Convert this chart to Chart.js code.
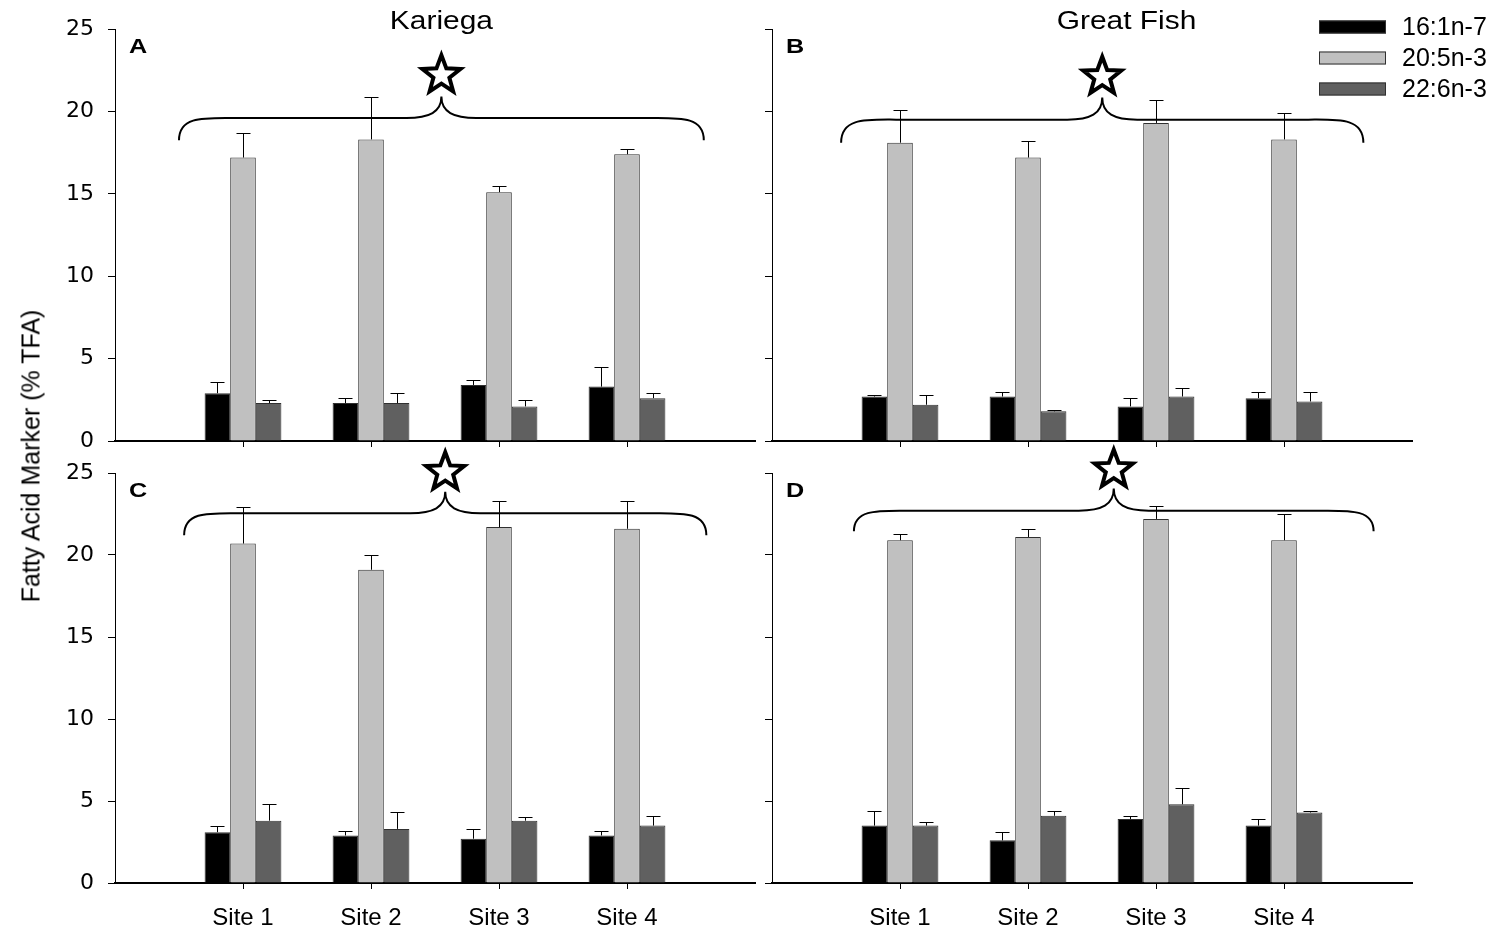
<!DOCTYPE html>
<html>
<head>
<meta charset="utf-8">
<script src="https://cdn.jsdelivr.net/npm/chart.js@4.4.1/dist/chart.umd.min.js"></script>
<style>
    html, body { margin: 0; padding: 0; background: #fff; }
    body { width: 1503px; height: 931px; position: relative; overflow: hidden; }
    canvas { position: absolute; }
    #yTitle {
        position: absolute; left: 31px; top: 456px;
        transform: translate(-50%, -50%) rotate(-90deg);
        white-space: nowrap; font: 25px "Liberation Sans", Arial, sans-serif; color: #000;
    }
</style>
</head>
<body>
<canvas id="chartA" width="760" height="470" style="left:0;top:0"></canvas>
<canvas id="chartB" width="743" height="470" style="left:760px;top:0"></canvas>
<canvas id="chartC" width="760" height="491" style="left:0;top:440px"></canvas>
<canvas id="chartD" width="743" height="491" style="left:760px;top:440px"></canvas>
<div id="yTitle">Fatty Acid Marker (% TFA)</div>

<script>
// data
const sites = ['Site 1', 'Site 2', 'Site 3', 'Site 4'];
const markers = ['16:1n-7', '20:5n-3', '22:6n-3'];
const yTickValues = [0, 5, 10, 15, 20, 25];

// A - Kariega (top)
const a16 = [2.9, 2.3, 3.4, 3.3],     a16Err = [0.7, 0.3, 0.3, 1.2];
const a20 = [17.2, 18.3, 15.1, 17.4], a20Err = [1.5, 2.6, 0.4, 0.3];
const a22 = [2.3, 2.3, 2.1, 2.6],     a22Err = [0.2, 0.6, 0.4, 0.3];

// B - Great Fish (top)
const b16 = [2.7, 2.7, 2.1, 2.6],     b16Err = [0.1, 0.3, 0.5, 0.4];
const b20 = [18.1, 17.2, 19.3, 18.3], b20Err = [2.0, 1.0, 1.4, 1.6];
const b22 = [2.2, 1.8, 2.7, 2.4],     b22Err = [0.6, 0.1, 0.5, 0.6];

// C - Kariega (bottom)
const c16 = [3.1, 2.9, 2.7, 2.9],     c16Err = [0.4, 0.3, 0.6, 0.3];
const c20 = [20.7, 19.1, 21.7, 21.6], c20Err = [2.2, 0.9, 1.6, 1.7];
const c22 = [3.8, 3.3, 3.8, 3.5],     c22Err = [1.0, 1.0, 0.2, 0.6];

// D - Great Fish (bottom)
const d16 = [3.5, 2.6, 3.9, 3.5],     d16Err = [0.9, 0.5, 0.2, 0.4];
const d20 = [20.9, 21.1, 22.2, 20.9], d20Err = [0.4, 0.5, 0.8, 1.6];
const d22 = [3.5, 4.1, 4.8, 4.3],     d22Err = [0.2, 0.3, 1.0, 0.1];

const fills = ['#000000', '#c0c0c0', '#606060'];
const FONT = '"Liberation Sans", Arial, sans-serif';

// error bars (upper only, with cap)
const errorBars = {
    id: 'errorBars',
    afterDatasetsDraw(chart) {
        const ctx = chart.ctx;
        const y = chart.scales.y;
        ctx.save();
        ctx.strokeStyle = '#000';
        ctx.lineWidth = 1;
        chart.data.datasets.forEach((ds, i) => {
            chart.getDatasetMeta(i).data.forEach((bar, j) => {
                const top = Math.round(y.getPixelForValue(ds.data[j].y + ds.errors[j])) + 0.5;
                const x = Math.round(bar.x) + 0.5;
                ctx.beginPath();
                ctx.moveTo(x, bar.y);
                ctx.lineTo(x, top);
                ctx.moveTo(x - 7, top);
                ctx.lineTo(x + 7, top);
                ctx.stroke();
            });
        });
        ctx.restore();
    }
};

function drawStar(ctx, cx, cy, r) {
    ctx.beginPath();
    for (let k = 0; k < 10; k++) {
        const rad = k % 2 === 0 ? r : r * 0.42;
        const a = -Math.PI / 2 + k * Math.PI / 5;
        const px = cx + rad * Math.cos(a), py = cy + rad * Math.sin(a);
        if (k === 0) ctx.moveTo(px, py); else ctx.lineTo(px, py);
    }
    ctx.closePath();
    ctx.fillStyle = '#fff';
    ctx.lineWidth = 4;
    ctx.lineJoin = 'miter';
    ctx.strokeStyle = '#000';
    ctx.fill();
    ctx.stroke();
}

// panel letter, title, brace, star and legend
const decorations = {
    id: 'decorations',
    afterDraw(chart, args, opts) {
        const ctx = chart.ctx;
        const xs = chart.scales.x, ys = chart.scales.y;
        const area = chart.chartArea;
        ctx.save();

        ctx.fillStyle = '#000';
        ctx.font = 'bold 21px ' + FONT;
        ctx.textBaseline = 'top';
        ctx.textAlign = 'left';
        ctx.save();
        ctx.translate(area.left + 14, area.top + 8);
        ctx.scale(1.2, 1);
        ctx.fillText(opts.letter, 0, 0);
        ctx.restore();

        if (opts.title) {
            ctx.font = '26px ' + FONT;
            ctx.textAlign = 'center';
            ctx.textBaseline = 'middle';
            ctx.save();
            ctx.translate(xs.getPixelForValue(opts.titleX), area.top - 7);
            ctx.scale(1.15, 1);
            ctx.fillText(opts.title, 0, 0);
            ctx.restore();
        }

        const b = opts.brace;
        const x0 = xs.getPixelForValue(b.x0), x1 = xs.getPixelForValue(b.x1);
        const xm = xs.getPixelForValue(b.xm);
        const yH = ys.getPixelForValue(b.y), yE = ys.getPixelForValue(b.yEnd);
        const yP = ys.getPixelForValue(b.yPeak);
        ctx.beginPath();
        ctx.lineWidth = 2;
        ctx.strokeStyle = '#000';
        ctx.moveTo(x0, yE);
        ctx.bezierCurveTo(x0, yH - 2, x0 + 25, yH, x0 + 55, yH);
        ctx.lineTo(xm - 35, yH);
        ctx.bezierCurveTo(xm - 12, yH, xm, yH - 6, xm, yP);
        ctx.bezierCurveTo(xm, yH - 6, xm + 12, yH, xm + 35, yH);
        ctx.lineTo(x1 - 55, yH);
        ctx.bezierCurveTo(x1 - 25, yH, x1, yH - 2, x1, yE);
        ctx.stroke();

        drawStar(ctx, xm, ys.getPixelForValue(b.star), 20);

        if (opts.legend) {
            const L = opts.legend;
            ctx.font = '25px ' + FONT;
            ctx.textAlign = 'left';
            ctx.textBaseline = 'middle';
            chart.data.datasets.forEach((ds, i) => {
                const cy = area.top + L.dy + i * L.gap;
                const lx = area.right - L.dx;
                ctx.fillStyle = ds.backgroundColor;
                ctx.fillRect(lx, cy - 6.5, 67, 13);
                ctx.lineWidth = 1;
                ctx.strokeStyle = '#303030';
                ctx.strokeRect(lx + 0.5, cy - 6, 66, 12);
                ctx.fillStyle = '#000';
                ctx.fillText(ds.label, lx + 83, cy + 1);
            });
        }
        ctx.restore();
    }
};

function makePanel(id, series, errs, o) {
    const datasets = series.map((vals, i) => ({
        label: markers[i],
        data: vals.map((v, j) => ({ x: j + 1, y: v })),
        errors: errs[i],
        backgroundColor: fills[i],
        borderColor: '#303030',
        borderWidth: 1,
        categoryPercentage: 0.6,
        barPercentage: 1.0
    }));
    const tickCol = (c) => (c.tick && c.tick.value >= 1 && c.tick.value <= 4) ? '#000' : 'rgba(0,0,0,0)';
    return new Chart(document.getElementById(id), {
        type: 'bar',
        data: { datasets: datasets },
        options: {
            responsive: false,
            animation: false,
            events: [],
            layout: { padding: { top: o.top, right: o.right, left: 0, bottom: 0 } },
            plugins: {
                legend: { display: false },
                tooltip: { enabled: false },
                decorations: o.deco
            },
            scales: {
                x: {
                    type: 'linear', min: 0, max: 5, offset: false,
                    afterBuildTicks: (s) => { s.ticks = [0, 1, 2, 3, 4, 5].map(v => ({ value: v })); },
                    afterFit: (s) => { s.height = o.xHeight; s.paddingLeft = 0; s.paddingRight = 0; },
                    grid: { offset: false, drawOnChartArea: false, drawTicks: true, tickLength: 6, color: tickCol, tickColor: tickCol },
                    border: { display: true, color: '#000', width: 2 },
                    ticks: {
                        display: o.xLabels, padding: 15, color: '#000',
                        font: { family: FONT, size: 24 },
                        maxRotation: 0, autoSkip: false,
                        callback: (v) => sites[v - 1] || ''
                    }
                },
                y: {
                    min: 0, max: 25,
                    afterBuildTicks: (s) => { s.ticks = yTickValues.map(v => ({ value: v })); },
                    afterFit: (s) => { s.width = o.yWidth; },
                    grid: { drawOnChartArea: false, drawTicks: true, tickLength: 7, color: '#000', tickColor: '#000' },
                    border: { display: true, color: '#000', width: 1 },
                    ticks: {
                        display: o.yLabels, padding: 14, color: '#000',
                        font: { family: '"DejaVu Sans", sans-serif', size: 22 }
                    }
                }
            }
        },
        plugins: [errorBars, decorations]
    });
}

makePanel('chartA', [a16, a20, a22], [a16Err, a20Err, a22Err], {
    top: 29, right: 5, xHeight: 29, yWidth: 115, xLabels: false, yLabels: true,
    deco: { letter: 'A', title: 'Kariega', titleX: 2.55,
            brace: { x0: 0.5, x1: 4.6, xm: 2.55, y: 19.6, yEnd: 18.25, yPeak: 20.9, star: 22.2 } }
});
makePanel('chartB', [b16, b20, b22], [b16Err, b20Err, b22Err], {
    top: 29, right: 91, xHeight: 29, yWidth: 12, xLabels: false, yLabels: false,
    deco: { letter: 'B', title: 'Great Fish', titleX: 2.77,
            brace: { x0: 0.54, x1: 4.62, xm: 2.58, y: 19.5, yEnd: 18.1, yPeak: 20.85, star: 22.1 },
            legend: { dx: 93, dy: -2, gap: 31 } }
});
makePanel('chartC', [c16, c20, c22], [c16Err, c20Err, c22Err], {
    top: 33, right: 5, xHeight: 48, yWidth: 115, xLabels: true, yLabels: true,
    deco: { letter: 'C',
            brace: { x0: 0.54, x1: 4.62, xm: 2.58, y: 22.55, yEnd: 21.2, yPeak: 23.85, star: 25.05 } }
});
makePanel('chartD', [d16, d20, d22], [d16Err, d20Err, d22Err], {
    top: 33, right: 91, xHeight: 48, yWidth: 12, xLabels: true, yLabels: false,
    deco: { letter: 'D',
            brace: { x0: 0.64, x1: 4.7, xm: 2.67, y: 22.7, yEnd: 21.45, yPeak: 24.05, star: 25.2 } }
});
</script>
</body>
</html>
